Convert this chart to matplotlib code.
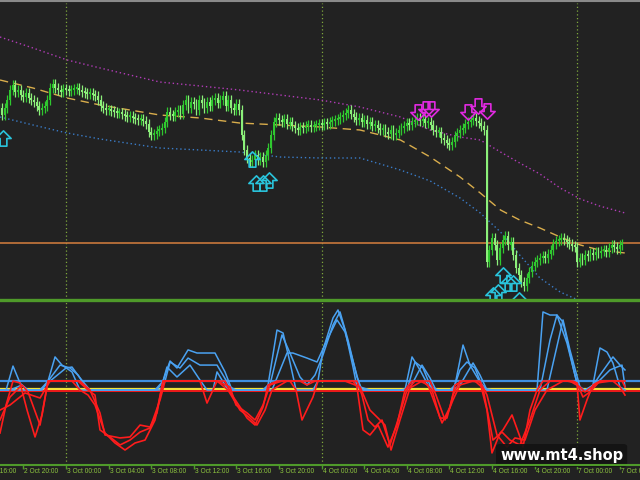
import numpy as np
import matplotlib
matplotlib.use('Agg')
import matplotlib.pyplot as plt
import matplotlib.transforms as mtransforms
from matplotlib.path import Path
from matplotlib.patches import FancyBboxPatch
from matplotlib.lines import Line2D

# time axis: trading hours counted from 3 Oct 00:00 (weekend removed), M15 bars
bar_start = -6.25
bar_step = 0.25

close = [
    1.2892,
    1.2885, 1.2892, 1.2900, 1.2910, 1.2915, 1.2908, 1.2910, 1.2905,
    1.2903, 1.2907, 1.2902, 1.2900, 1.2898, 1.2894, 1.2890, 1.2892,
    1.2894, 1.2900, 1.2912, 1.2916, 1.2912, 1.2910, 1.2908, 1.2911,
    1.2910, 1.2909, 1.2910, 1.2911, 1.2912, 1.2910, 1.2908, 1.2907,
    1.2906, 1.2907, 1.2905, 1.2904, 1.2900, 1.2894, 1.2892, 1.2890,
    1.2890, 1.2889, 1.2888, 1.2887, 1.2887, 1.2886, 1.2884, 1.2883,
    1.2884, 1.2882, 1.2881, 1.2880, 1.2881, 1.2879, 1.2876, 1.2868,
    1.2865, 1.2866, 1.2869, 1.2870, 1.2872, 1.2878, 1.2888, 1.2885,
    1.2884, 1.2888, 1.2890, 1.2886, 1.2895, 1.2900, 1.2892, 1.2898,
    1.2896, 1.2890, 1.2900, 1.2897, 1.2892, 1.2898, 1.2894, 1.2900,
    1.2902, 1.2897, 1.2900, 1.2904, 1.2894, 1.2900, 1.2892, 1.2890,
    1.2896, 1.2890, 1.2865, 1.2850, 1.2842, 1.2838, 1.2840, 1.2845,
    1.2840, 1.2843, 1.2838, 1.2845, 1.2852, 1.2865, 1.2878, 1.2882,
    1.2880, 1.2878, 1.2881, 1.2876, 1.2878, 1.2874, 1.2872, 1.2870,
    1.2873, 1.2872, 1.2874, 1.2875, 1.2873, 1.2874, 1.2875, 1.2876,
    1.2875, 1.2877, 1.2876, 1.2878, 1.2879, 1.2880, 1.2881, 1.2883,
    1.2885, 1.2887, 1.2890, 1.2886, 1.2883, 1.2880, 1.2882, 1.2878,
    1.2880, 1.2876, 1.2878, 1.2874, 1.2875, 1.2872, 1.2870, 1.2871,
    1.2868, 1.2866, 1.2870, 1.2865, 1.2867, 1.2870, 1.2872, 1.2874,
    1.2877, 1.2875, 1.2878, 1.2880, 1.2882, 1.2879, 1.2881, 1.2877,
    1.2878, 1.2875, 1.2870, 1.2868, 1.2868, 1.2862, 1.2860, 1.2857,
    1.2855, 1.2858, 1.2864, 1.2867, 1.2870, 1.2872, 1.2876, 1.2878,
    1.2880, 1.2882, 1.2879, 1.2877, 1.2874, 1.2870, 1.2738, 1.2750,
    1.2762, 1.2755, 1.2740, 1.2752, 1.2760, 1.2764, 1.2755, 1.2758,
    1.2745, 1.2732, 1.2725, 1.2718, 1.2714, 1.2722, 1.2728, 1.2734,
    1.2738, 1.2740, 1.2742, 1.2744, 1.2742, 1.2746, 1.2750, 1.2756,
    1.2759, 1.2760, 1.2762, 1.2760, 1.2758, 1.2756, 1.2754, 1.2753,
    1.2738, 1.2742, 1.2740, 1.2745, 1.2744, 1.2747, 1.2745, 1.2748,
    1.2747, 1.2749, 1.2750, 1.2748, 1.2752, 1.2755, 1.2753, 1.2751,
    1.2755, 1.2756,
]

# moving average and envelope bands
band_t = [-6.2, -3.1, 0.1, 3.2, 8.8, 12.6, 16.3, 20.1, 23.9, 27.6, 31.4,
          34.2, 37.0, 38.9, 40.8, 42.6, 44.5, 46.4, 48.3, 50.1, 52.5]
ma = [1.2920, 1.2912, 1.2902, 1.2895, 1.2885, 1.2882, 1.2877, 1.2875, 1.2873, 1.2870, 1.2860,
      1.2843, 1.2823, 1.2807, 1.2790, 1.2780, 1.2772, 1.2763, 1.2755, 1.2750, 1.2747]
upper = [1.2963, 1.2952, 1.2940, 1.2932, 1.2918, 1.2914, 1.2910, 1.2905, 1.2900, 1.2893, 1.2883,
         1.2870, 1.2863, 1.2860, 1.2848, 1.2837, 1.2826, 1.2812, 1.2801, 1.2794, 1.2787]
lower = [1.2883, 1.2875, 1.2867, 1.2861, 1.2852, 1.2850, 1.2848, 1.2843, 1.2842, 1.2842, 1.2830,
         1.2819, 1.2802, 1.2787, 1.2768, 1.2745, 1.2722, 1.2708, 1.2699, 1.2695, 1.2690]
level_price = 1.2757

buy_t = [-5.92, 17.46, 17.84, 18.5, 19.06, 40.09, 40.56, 41.03, 41.5, 41.97, 42.54]
buy_p = [1.2862, 1.2841, 1.2817, 1.2817, 1.2820, 1.2705, 1.2708, 1.2725, 1.2717, 1.2717, 1.2700]
sell_t = [33.05, 33.8, 34.27, 37.75, 38.69, 39.53]
sell_p = [1.2888, 1.2891, 1.2891, 1.2888, 1.2894, 1.2889]

# oscillator, three lines
osc_a_t = [-6.2, -5.63, -4.98, -4.32, -3.66, -2.91, -2.25, -1.69, -1.03, -0.38, 0.56, 1.31,
           2.07, 2.72, 3.66, 4.6, 5.54, 6.48, 7.42, 8.36, 9.11, 9.77, 10.42, 11.46, 12.3,
           13.99, 14.93, 15.59, 16.34, 17.0, 17.75, 18.5, 18.97, 19.81, 20.38, 21.03, 21.6,
           22.16, 23.19, 23.66, 24.13, 25.07, 25.54, 26.2, 26.95, 27.32, 27.89, 28.54, 29.3,
           30.23, 31.08, 31.83, 32.49, 33.24, 33.99, 34.93, 35.31, 36.06, 36.53, 37.28, 37.93,
           38.87, 39.53, 40.0, 40.75, 41.03, 41.88, 42.63, 42.91, 43.57, 44.23, 44.79, 45.45,
           46.1, 46.67, 47.61, 47.98, 48.26, 48.92, 49.48, 50.14, 50.8, 51.36, 52.02, 52.49]
osc_a = [19.6, 36.8, 60.7, 50.3, 33.7, 17.2, 30.7, 51.5, 66.3, 61.3, 57.1, 46.0,
         42.9, 36.8, 19.6, 13.5, 9.2, 13.5, 15.3, 27.6, 51.5, 63.8, 59.5, 70.6, 68.7,
         68.7, 57.1, 42.9, 35.6, 28.8, 24.5, 35.6, 49.1, 82.8, 81.0, 63.0, 46.0,
         27.6, 41.7, 51.5, 70.6, 90.2, 95.1, 82.8, 60.1, 47.9, 21.5, 18.4, 24.5,
         11.0, 24.5, 46.0, 66.3, 58.3, 49.1, 32.5, 25.8, 35.6, 49.1, 73.6, 61.3,
         50.9, 33.7, 7.4, 19.6, 21.5, 30.7, 17.2, 11.0, 33.7, 46.0, 93.9, 92.0,
         92.0, 87.7, 60.1, 50.3, 27.6, 39.9, 49.1, 71.8, 69.3, 62.6, 47.9, 42.9]

osc_b_t = [-6.2, -5.26, -4.13, -3.57, -2.44, -1.69, -0.56, 0.38, 1.13, 2.07, 2.72, 3.19,
           4.13, 5.07, 6.01, 6.95, 7.89, 8.83, 9.3, 9.77, 10.7, 11.46, 12.58, 14.18, 15.4,
           15.96, 17.0, 17.75, 18.5, 19.15, 20.28, 21.03, 21.97, 22.63, 23.38, 24.13, 25.07,
           25.73, 26.48, 27.32, 27.79, 28.36, 29.01, 29.67, 30.42, 31.17, 32.02, 32.77, 33.52,
           34.37, 35.12, 35.77, 36.34, 37.0, 37.65, 38.4, 39.15, 40.09, 40.94, 41.69, 42.63,
           43.57, 44.51, 45.45, 46.1, 47.04, 47.98, 48.54, 49.2, 50.14, 51.36, 52.02, 52.49]
osc_b = [27.6, 41.7, 49.1, 44.8, 24.5, 51.5, 61.3, 59.5, 55.2, 46.0, 42.9, 21.5,
         17.2, 12.3, 15.3, 20.2, 22.7, 39.9, 51.5, 63.2, 59.5, 65.6, 61.3, 61.3, 47.9,
         36.8, 31.9, 27.6, 36.8, 49.1, 79.8, 68.7, 54.0, 49.1, 55.2, 67.5, 85.9,
         93.9, 76.7, 54.0, 42.9, 27.6, 23.3, 27.6, 12.3, 27.6, 46.0, 63.2, 59.5,
         46.0, 28.8, 28.8, 42.9, 58.3, 63.2, 59.5, 47.2, 15.3, 20.2, 15.3, 12.3,
         27.6, 46.0, 76.7, 92.0, 74.8, 50.3, 41.7, 44.8, 55.2, 66.3, 61.3, 58.3]

osc_c_t = [-6.2, -5.26, -3.85, -2.44, -1.5, 0.0, 0.56, 1.31, 2.25, 3.19, 3.66, 5.07,
           6.01, 6.95, 7.89, 8.54, 9.11, 9.48, 10.42, 11.64, 12.58, 13.24, 13.8, 14.18, 15.21,
           16.34, 17.28, 17.93, 18.69, 19.34, 20.75, 21.31, 22.63, 23.57, 24.51, 25.45, 26.2,
           27.61, 28.54, 29.3, 29.95, 30.52, 31.36, 32.3, 33.43, 34.18, 34.74, 35.59, 36.34,
           37.0, 38.22, 38.87, 39.53, 40.47, 41.41, 42.16, 43.1, 44.04, 45.16, 46.67, 47.32,
           48.26, 48.73, 49.86, 51.08, 52.21, 52.49]
osc_c = [33.7, 36.8, 44.2, 41.1, 51.5, 59.5, 60.1, 53.4, 46.0, 31.9, 18.4, 16.6,
         17.2, 24.5, 23.3, 31.9, 51.5, 60.1, 54.0, 61.3, 52.1, 38.0, 46.0, 57.1, 46.0,
         33.7, 28.8, 24.5, 33.7, 46.0, 68.7, 68.7, 65.6, 63.2, 76.7, 89.0, 81.6,
         47.9, 33.7, 28.8, 24.5, 9.2, 27.6, 47.2, 61.3, 53.4, 42.9, 27.6, 39.9,
         49.1, 62.6, 55.2, 42.9, 18.4, 11.0, 16.6, 15.3, 33.7, 46.0, 89.0, 70.6,
         47.9, 44.8, 50.3, 58.3, 61.3, 47.9]

osc_high = 51.5
osc_mid = 46.6
osc_low = 45.4

tick_t = [-8, -4, 0, 4, 8, 12, 16, 20, 24, 28, 32, 36, 40, 44, 48, 52]
tick_labels = ['2 Oct 16:00', '2 Oct 20:00', '3 Oct 00:00', '3 Oct 04:00', '3 Oct 08:00',
               '3 Oct 12:00', '3 Oct 16:00', '3 Oct 20:00', '4 Oct 00:00', '4 Oct 04:00',
               '4 Oct 08:00', '4 Oct 12:00', '4 Oct 16:00', '4 Oct 20:00', '7 Oct 00:00',
               '7 Oct 04:00']
day_starts = [0, 24, 48]

bg = '#222222'
green_line = '#4f9a2a'
grid_col = '#7fa83c'

fig = plt.figure(figsize=(6.4, 4.8), dpi=100, facecolor=bg)
ax = fig.add_axes([0, 0.375, 1, 0.61875])
ax2 = fig.add_axes([0, 0.03125, 1, 0.3396])
for a in (ax, ax2):
    a.set_facecolor(bg)
    for s in a.spines.values():
        s.set_visible(False)
    for d in day_starts:
        a.axvline(d, color=grid_col, ls=(0, (1, 2)), lw=0.9, zorder=1)
ax.set_xticks([])
ax.set_yticks([])
ax2.set_yticks([])

# candles
c = np.array(close)
o = np.r_[c[0], c[:-1]]
t = bar_start + bar_step * np.arange(len(c))
wick = 0.0005
bull = c >= o
cols = np.where(bull, '#2fc82f', '#8cf07a')
ax.vlines(t, np.minimum(o, c) - wick, np.maximum(o, c) + wick, colors=cols, lw=0.9, zorder=3)
ax.bar(t, np.maximum(np.abs(c - o), 0.0002), bottom=np.minimum(o, c), width=0.18,
       color=cols, zorder=3)

ax.plot(band_t, ma, color='#d9ad4c', lw=1.0, ls=(0, (6, 4)), zorder=2)
ax.plot(band_t, upper, color='#b23cb8', lw=1.0, ls=(0, (1, 2)), zorder=2)
ax.plot(band_t, lower, color='#3a7cc8', lw=1.0, ls=(0, (1, 2)), zorder=2)
ax.axhline(level_price, color='#c8783c', lw=1.2, zorder=2)

up_arrow = Path([(-0.22, -0.5), (0.22, -0.5), (0.22, 0.0), (0.5, 0.0), (0.0, 0.5),
                 (-0.5, 0.0), (-0.22, 0.0), (-0.22, -0.5)], closed=True)
down_arrow = Path([(-0.22, 0.5), (0.22, 0.5), (0.22, 0.0), (0.5, 0.0), (0.0, -0.5),
                   (-0.5, 0.0), (-0.22, 0.0), (-0.22, 0.5)], closed=True)
ax.plot(buy_t, buy_p, ls='none', marker=up_arrow, ms=11, mfc='none', mec='#2ac4dc',
        mew=1.2, zorder=4)
ax.plot(sell_t, sell_p, ls='none', marker=down_arrow, ms=11, mfc='none', mec='#e02ae0',
        mew=1.2, zorder=4)

# oscillator panel
ax2.axhline(osc_high, color='#3f8fe0', lw=1.6, zorder=2)
ax2.axhline(osc_mid, color='#f2e23a', lw=1.6, zorder=2)
ax2.axhline(osc_low, color='#ee1a1a', lw=1.4, zorder=2)
for tt, vv in [(osc_a_t, osc_a), (osc_b_t, osc_b), (osc_c_t, osc_c)]:
    vv = np.array(vv)
    ax2.plot(tt, np.maximum(vv, 46.0), color='#4aa2f2', lw=1.1, zorder=3)
for tt, vv in [(osc_a_t, osc_a), (osc_b_t, osc_b), (osc_c_t, osc_c)]:
    vv = np.array(vv)
    ax2.plot(tt, np.minimum(vv, osc_high), color='#ff1c1c', lw=1.2, zorder=4)

# time axis ticks and labels (labels start at the tick, MT4 style)
ax2.set_xticks(tick_t)
ax2.set_xticklabels([])
ax2.tick_params(axis='x', direction='out', length=3, width=1, color=green_line)
ax2.tick_params(axis='y', left=False)
lbl_tr = mtransforms.blended_transform_factory(ax2.transData, ax2.transAxes)
for tt, lab in zip(tick_t, tick_labels):
    ax2.text(tt + 0.1, -0.037, lab, transform=lbl_tr, ha='left', va='center',
             fontsize=4.8, color='#8ec63f', fontfamily='Liberation Sans', clip_on=False)

for a in (ax, ax2):
    a.set_xlim(-6.2, 53.9)
ax.set_ylim(1.2700, 1.2997)
ax2.set_ylim(0, 100)

# panel borders
fig.add_artist(Line2D([0, 1], [0.997, 0.997], color='#8a8a8a', lw=1.5))
fig.add_artist(Line2D([0, 1], [0.374, 0.374], color=green_line, lw=2.4))
fig.add_artist(Line2D([0, 1], [0.0315, 0.0315], color=green_line, lw=1.5))

# watermark
fig.add_artist(FancyBboxPatch((0.775, 0.027), 0.205, 0.048,
                              boxstyle='round,pad=0,rounding_size=0.006',
                              transform=fig.transFigure, fc='#131313', ec='none', alpha=0.92))
fig.text(0.878, 0.051, 'www.mt4.shop', ha='center', va='center', fontsize=10.5,
         weight='bold', color='white')

fig.savefig('out.png', dpi=100, facecolor=bg)
